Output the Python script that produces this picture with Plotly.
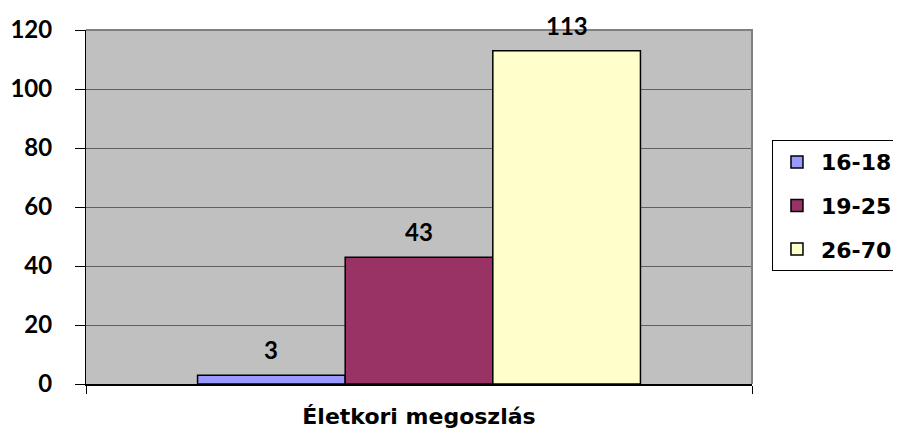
import plotly.graph_objects as go

category = ["Életkori megoszlás"]
series_names = ["16-18", "19-25", "26-70"]
series_values = [[3], [43], [113]]
series_colors = ["#9999FF", "#993366", "#FFFFCC"]
y_ticks = [0, 20, 40, 60, 80, 100, 120]

FONT = "Lato, 'Open Sans', Arial, sans-serif"
WIDE = "'DejaVu Sans', Arial, sans-serif"
BARGAP = 0.335

fig = go.Figure()
n = len(series_names)
group_w = 1 - BARGAP
annotations = []
for i, (name, vals, col) in enumerate(zip(series_names, series_values, series_colors)):
    fig.add_trace(go.Bar(
        x=category, y=vals, name=name,
        marker=dict(color=col, line=dict(color="#000000", width=1.5)),
        legendgroup=name,
    ))
    # data labels placed above each bar of the group
    for j, v in enumerate(vals):
        annotations.append(dict(
            x=j - group_w / 2 + (i + 0.5) * group_w / n, y=v,
            xref="x", yref="y", text=str(v), showarrow=False,
            yanchor="bottom", yshift=9,
            font=dict(family=FONT, size=24, color="#000000", weight="bold"),
        ))

fig.update_layout(
    width=893, height=426,
    margin=dict(l=78, r=149, t=22, b=50, autoexpand=False),
    paper_bgcolor="#FFFFFF", plot_bgcolor="#C0C0C0",
    barmode="group", bargap=BARGAP, bargroupgap=0,
    font=dict(family=FONT, size=24, color="#000000", weight="bold"),
    showlegend=True,
    legend=dict(
        x=1.03, y=0.689, xanchor="left", yanchor="top",
        bgcolor="#FFFFFF", bordercolor="#000000", borderwidth=1,
        font=dict(family=WIDE, size=22, color="#000000", weight="bold"),
        tracegroupgap=12, traceorder="grouped", itemwidth=38,
    ),
    annotations=annotations,
    shapes=[dict(type="path", xref="paper", yref="paper",
                 path="M 0 1 L 1 1 L 1 0", line=dict(color="#808080", width=2), layer="above")],
)
fig.update_yaxes(
    range=[0, 120], tickvals=y_ticks, ticktext=[str(t) for t in y_ticks],
    showgrid=True, gridcolor="#606060", gridwidth=1,
    showline=True, linecolor="#000000", linewidth=1,
    ticks="outside", ticklen=10, tickcolor="#000000",
    ticklabelstandoff=18, zeroline=False, automargin=False,
    tickfont=dict(family=FONT, size=24, color="#000000", weight="bold"),
)
fig.update_xaxes(
    showline=True, linecolor="#000000", linewidth=1.5,
    ticks="outside", tickson="boundaries", ticklen=8, tickcolor="#000000",
    tickfont=dict(family=WIDE, size=22, color="#000000", weight="bold"),
    ticklabelstandoff=12, automargin=False,
)

fig.write_html("out.html")
